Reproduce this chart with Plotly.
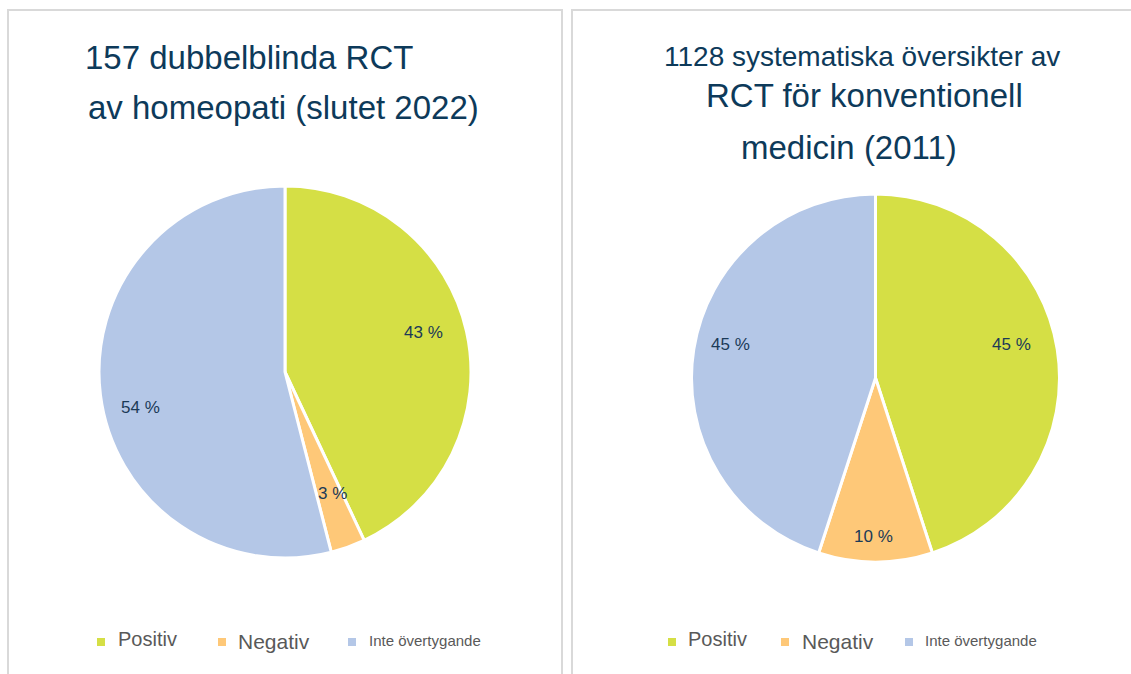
import math
import plotly.graph_objects as go

# ---------------- data ----------------
categories = ["Positiv", "Negativ", "Inte övertygande"]
homeopathy_values = [43, 3, 54]
conventional_values = [45, 10, 45]
homeopathy_title = ["157 dubbelblinda RCT", "av homeopati (slutet 2022)"]
conventional_title = ["1128 systematiska översikter av", "RCT för konventionell", "medicin (2011)"]

# ---------------- style / layout ----------------
W, H = 1131, 674
colors = ["#D5DF45", "#FEC878", "#B4C7E7"]
title_color = "#0D3A5A"
label_color = "#1B3A57"
legend_text_color = "#595959"
FONT = "Arial, 'Liberation Sans', sans-serif"


def px_x(x):
    return x / W


def px_y(y):
    return 1 - y / H


fig = go.Figure()

# label placement: radius fraction and angular offset (deg) from slice mid-angle
panels = [
    dict(values=homeopathy_values, cx=285, cy=372, r=186,
         label_frac=[0.775, 0.70, 0.80], label_dang=[-3.5, -1.4, -6.7]),
    dict(values=conventional_values, cx=875.5, cy=378, r=184,
         label_frac=[0.763, 0.864, 0.81], label_dang=[-4.6, 0.7, 3.9]),
]

annotations = []
shapes = []

for p in panels:
    cx, cy, r = p["cx"], p["cy"], p["r"]
    fig.add_trace(go.Pie(
        labels=categories,
        values=p["values"],
        sort=False,
        direction="clockwise",
        rotation=0,
        marker=dict(colors=colors, line=dict(color="white", width=3)),
        textinfo="none",
        hoverinfo="label+percent",
        showlegend=False,
        domain=dict(x=[px_x(cx - r), px_x(cx + r)], y=[px_y(cy + r), px_y(cy - r)]),
    ))
    total = sum(p["values"])
    cum = 0
    for v, f, da in zip(p["values"], p["label_frac"], p["label_dang"]):
        ang = (cum + v / 2) / total * 2 * math.pi + math.radians(da)
        cum += v
        lx = cx + f * r * math.sin(ang)
        ly = cy - f * r * math.cos(ang)
        annotations.append(dict(
            x=px_x(lx), y=px_y(ly), xref="paper", yref="paper",
            text=f"{round(v / total * 100)} %", showarrow=False,
            xanchor="center", yanchor="middle",
            font=dict(family=FONT, size=17, color=label_color),
        ))

# panel borders
for x0, x1 in [(8, 562), (572, 1145)]:
    shapes.append(dict(type="rect", xref="paper", yref="paper",
                       x0=px_x(x0), x1=px_x(x1), y0=px_y(H + 20), y1=px_y(10),
                       line=dict(color="#D9D9D9", width=2), fillcolor="rgba(0,0,0,0)",
                       layer="below"))

# titles
left_title_pos = [(83, 58, 33), (86, 108, 33)]
for txt, (x, y, s) in zip(homeopathy_title, left_title_pos):
    annotations.append(dict(x=px_x(x), y=px_y(y), xref="paper", yref="paper",
                            text=txt, showarrow=False, xanchor="left", yanchor="middle",
                            font=dict(family=FONT, size=s, color=title_color)))
right_title_pos = [(861.5, 57, 28), (864.5, 95, 33), (849, 147, 33)]
for txt, (x, y, s) in zip(conventional_title, right_title_pos):
    annotations.append(dict(x=px_x(x), y=px_y(y), xref="paper", yref="paper",
                            text=txt, showarrow=False, xanchor="center", yanchor="middle",
                            font=dict(family=FONT, size=s, color=title_color)))

# custom legends (items have different font sizes)
legend_sizes = [20, 21, 15]
legend_text_dy = [-1, 1, 0]
legend_layouts = [
    dict(sq=[97, 218, 348], tx=[116, 236, 367], y=642),
    dict(sq=[668, 781, 905], tx=[686, 800, 923], y=642),
]
for lay in legend_layouts:
    for cat, col, sx, tx, fs, dy in zip(categories, colors, lay["sq"], lay["tx"],
                                        legend_sizes, legend_text_dy):
        y = lay["y"]
        shapes.append(dict(type="rect", xref="paper", yref="paper",
                           x0=px_x(sx), x1=px_x(sx + 8), y0=px_y(y + 4), y1=px_y(y - 4),
                           line=dict(width=0), fillcolor=col))
        annotations.append(dict(x=px_x(tx), y=px_y(y - 2 + dy), xref="paper", yref="paper",
                                text=cat, showarrow=False, xanchor="left", yanchor="middle",
                                font=dict(family=FONT, size=fs, color=legend_text_color)))

fig.update_layout(
    width=W, height=H,
    margin=dict(l=0, r=0, t=0, b=0),
    paper_bgcolor="white",
    plot_bgcolor="white",
    annotations=annotations,
    shapes=shapes,
    showlegend=False,
)

fig.write_html("out.html",
               config={"displayModeBar": False},
               post_script="document.body.style.margin='0';document.body.style.overflow='hidden';")
